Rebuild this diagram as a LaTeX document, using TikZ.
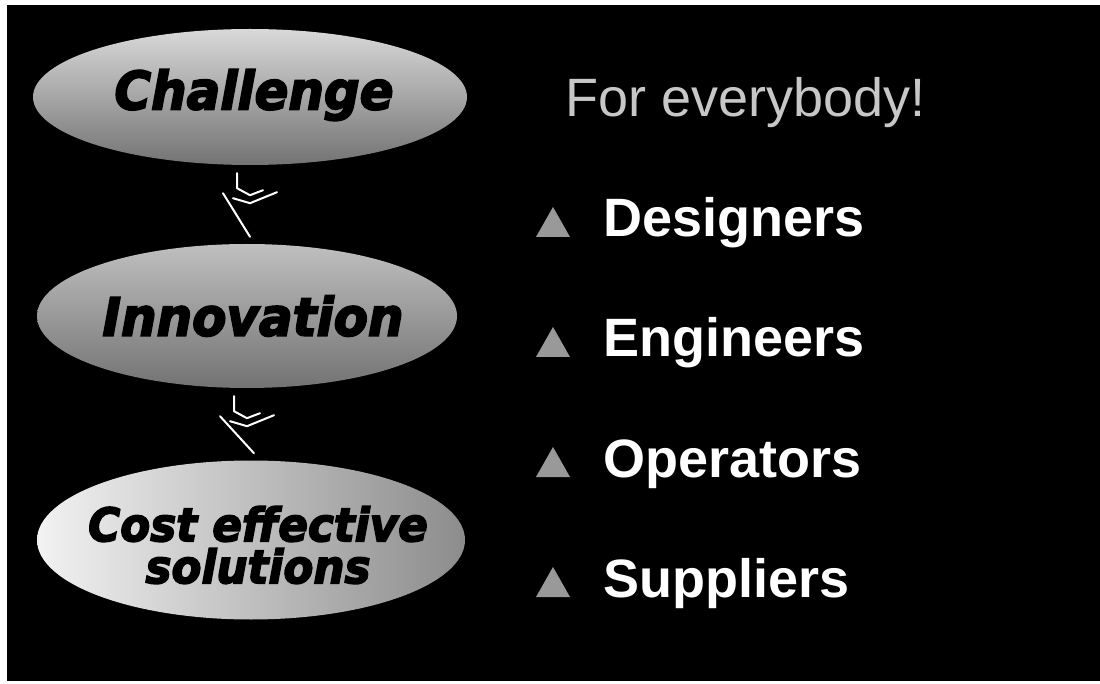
\documentclass[tikz,border=0pt]{standalone}
\usepackage{fontspec}
\setmainfont{Liberation Sans}
\newfontfamily\bubblefont{DejaVu Sans}[BoldItalicFeatures={FakeBold=3.5}]
\usepackage{tikz}
\usetikzlibrary{shapes.geometric}

\newcommand{\wide}[1]{\scalebox{1.04}[1.1]{#1}}

\begin{document}
\begin{tikzpicture}[x=1pt, y=-1pt,
    bubble/.style={ellipse, draw=none, inner sep=0pt},
    bubbletext/.style={font=\bubblefont\bfseries\itshape\fontsize{48}{44}\selectfont, text=black, align=center, inner sep=0pt},
    arrowline/.style={white, line width=2pt, line cap=round, line join=round},
    item/.style={font=\bfseries\fontsize{54}{60}\selectfont, text=white, anchor=base west, inner sep=0pt},
    tri/.style={fill=black!40}]
  % Page and slide
  \useasboundingbox (0,0) rectangle (1100,684);
  \fill[white] (0,0) rectangle (1100,684);
  \fill[black] (7,5) rectangle (1100,681);
  % Ellipses
  \node[bubble, top color=black!15, bottom color=black!55, minimum width=434, minimum height=136] (ch) at (250,97) {};
  \node[bubble, top color=black!25, bottom color=black!55, minimum width=420, minimum height=144] (inn) at (247,316) {};
  \node[bubble, left color=black!5, right color=black!45, minimum width=428, minimum height=159] (cost) at (251,540) {};
  \node[bubbletext] (chtext) at (254,95) {\wide{Challenge}};
  \node[bubbletext] (inntext) at (253,316) {\wide{Innovation}};
  \node[bubbletext, font=\bubblefont\bfseries\itshape\fontsize{42}{42}\selectfont] (costtext) at (258,545) {\wide{Cost effective}\\\wide{solutions}};
  % Arrows
  \foreach \a/\b in {ch/inn, inn/cost}{
    \draw[arrowline] ([shift={(-27,28)}]\a.south) -- ([shift={(3,-7)}]\b.north);
    \draw[arrowline] ([shift={(-13,8)}]\a.south) -- ++(0,15) -- ++(13,7) -- ++(13,-5);
    \draw[arrowline] ([shift={(-17,33)}]\a.south) -- ++(17,5) -- ++(27,-11);
  }
  % Audience
  \node[font=\fontsize{54}{60}\selectfont, text=black!22, anchor=base west, inner sep=0pt] (head) at (565,117) {For everybody!};
  \foreach \t [count=\i] in {Designers, Engineers, Operators, Suppliers}{
    \pgfmathsetmacro\yy{117+120*\i}
    \fill[tri] (536,\yy) -- (570,\yy) -- (553,\yy-30) -- cycle;
    \node[item] (item\i) at (603,\yy) {\t};
  }
\end{tikzpicture}
\end{document}
